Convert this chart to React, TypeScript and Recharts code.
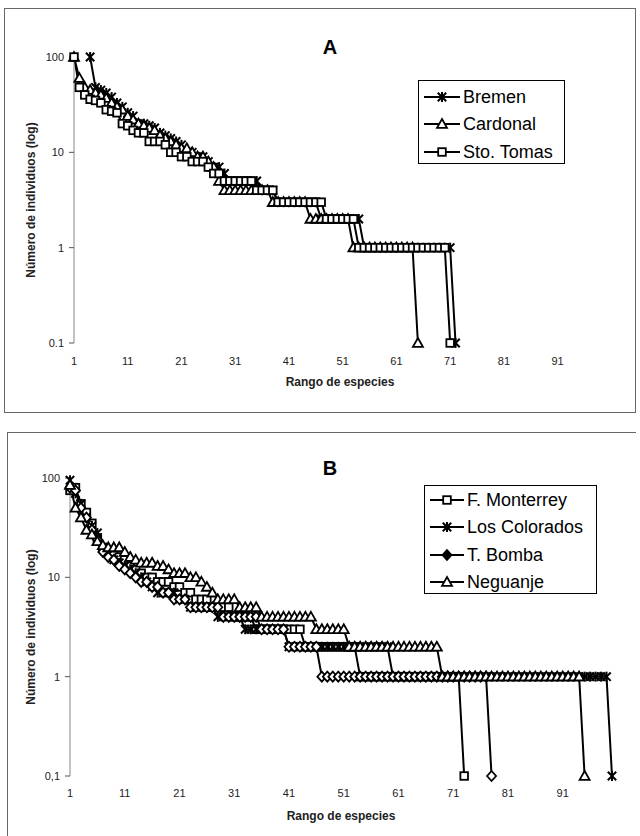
import React from 'react';
import { LineChart, Line, XAxis, YAxis, Legend } from 'recharts';

const ranks = Array.from({ length: 100 }, (_, i) => i + 1);
const xTicks = [1, 11, 21, 31, 41, 51, 61, 71, 81, 91];
const yTicks = [0.1, 1, 10, 100];

// ---- Panel A ----
const bremen = [
  null, null, null, 100, 48, 45, 42, 38, 33, 30,
  26, 24, 20, 20, 19, 18, 16, 15, 14, 13,
  12, 10, 10, 9, 9, 8, 7, 7, 6, 5,
  5, 5, 5, 5, 5, 4, 4, 4, 3, 3,
  3, 3, 3, 3, 3, 3, 2, 2, 2, 2,
  2, 2, 2, 2, 1, 1, 1, 1, 1, 1,
  1, 1, 1, 1, 1, 1, 1, 1, 1, 1,
  1, 0.1,
];
const cardonal = [
  100, 60, 48, 45, 42, 40, 37, 33, 30, 28,
  24, 22, 20, 19, 18, 17, 15, 14, 13, 12,
  11, 11, 10, 9, 9, 8, 7, 5, 4, 4,
  4, 4, 4, 4, 4, 4, 4, 3, 3, 3,
  3, 3, 3, 3, 2, 2, 2, 2, 2, 2,
  2, 2, 1, 1, 1, 1, 1, 1, 1, 1,
  1, 1, 1, 1, 0.1,
];
const stoTomas = [
  100, 48, 40, 36, 35, 33, 28, 27, 26, 20,
  19, 17, 16, 16, 13, 13, 13, 12, 10, 10,
  9, 9, 8, 8, 8, 7, 6, 6, 5, 5,
  5, 5, 5, 5, 4, 4, 4, 4, 3, 3,
  3, 3, 3, 3, 3, 3, 3, 2, 2, 2,
  2, 2, 2, 1, 1, 1, 1, 1, 1, 1,
  1, 1, 1, 1, 1, 1, 1, 1, 1, 1,
  0.1,
];

// ---- Panel B ----
const fMonterrey = [
  75, 80, 55, 45, 35, 25, 20, 18, 17, 16,
  15, 13, 12, 11, 10, 10, 9, 9, 9, 8,
  8, 7, 7, 6, 6, 6, 5, 5, 5, 5,
  4, 4, 4, 4, 3, 3, 3, 3, 3, 3,
  3, 3, 3, 2, 2, 2, 2, 2, 2, 2,
  2, 2, 2, 1, 1, 1, 1, 1, 1, 1,
  1, 1, 1, 1, 1, 1, 1, 1, 1, 1,
  1, 1, 0.1,
];
const losColorados = [
  95, 70, 55, 40, 33, 28, 20, 17, 15, 14,
  13, 12, 11, 10, 9, 8, 7, 7, 7, 7,
  6, 6, 5, 5, 5, 5, 5, 4, 4, 4,
  4, 4, 3, 3, 3, 3, 3, 3, 3, 3,
  2, 2, 2, 2, 2, 2, 2, 2, 2, 2,
  2, 2, 2, 2, 2, 2, 2, 2, 2, 1,
  1, 1, 1, 1, 1, 1, 1, 1, 1, 1,
  1, 1, 1, 1, 1, 1, 1, 1, 1, 1,
  1, 1, 1, 1, 1, 1, 1, 1, 1, 1,
  1, 1, 1, 1, 1, 1, 1, 1, 1, 0.1,
];
const tBomba = [
  80, 75, 50, 40, 30, 24, 18, 16, 15, 13,
  12, 11, 10, 9, 9, 8, 8, 7, 7, 6,
  6, 6, 5, 5, 5, 5, 5, 5, 4, 4,
  4, 4, 4, 4, 4, 3, 3, 3, 3, 3,
  2, 2, 2, 2, 2, 2, 1, 1, 1, 1,
  1, 1, 1, 1, 1, 1, 1, 1, 1, 1,
  1, 1, 1, 1, 1, 1, 1, 1, 1, 1,
  1, 1, 1, 1, 1, 1, 1, 0.1,
];
const neguanje = [
  85, 50, 40, 30, 27, 23, 21, 20, 20, 20,
  18, 16, 15, 14, 14, 14, 13, 13, 12, 11,
  11, 11, 10, 10, 9, 8, 7, 6, 6, 6,
  6, 5, 5, 5, 5, 4, 4, 4, 4, 4,
  4, 4, 4, 4, 4, 3, 3, 3, 3, 3,
  3, 2, 2, 2, 2, 2, 2, 2, 2, 2,
  2, 2, 2, 2, 2, 2, 2, 2, 1, 1,
  1, 1, 1, 1, 1, 1, 1, 1, 1, 1,
  1, 1, 1, 1, 1, 1, 1, 1, 1, 1,
  1, 1, 1, 1, 0.1,
];

type Series = { key: string; name: string; values: (number | null)[]; marker: string; legendFilled?: boolean };

const seriesA: Series[] = [
  { key: 'bremen', name: 'Bremen', values: bremen, marker: 'star' },
  { key: 'cardonal', name: 'Cardonal', values: cardonal, marker: 'triangle' },
  { key: 'stoTomas', name: 'Sto. Tomas', values: stoTomas, marker: 'square' },
];
const seriesB: Series[] = [
  { key: 'fMonterrey', name: 'F. Monterrey', values: fMonterrey, marker: 'square' },
  { key: 'losColorados', name: 'Los Colorados', values: losColorados, marker: 'star' },
  { key: 'tBomba', name: 'T. Bomba', values: tBomba, marker: 'diamond', legendFilled: true },
  { key: 'neguanje', name: 'Neguanje', values: neguanje, marker: 'triangle' },
];

function buildRows(series: Series[]) {
  return ranks.map((r, i) => {
    const row: any = { rank: r };
    series.forEach((s) => {
      const v = s.values[i];
      row[s.key] = v === undefined ? null : v;
    });
    return row;
  });
}

const FONT = '"Liberation Sans", Arial, sans-serif';

function Marker({ type, cx, cy, filled }: { type: string; cx: number; cy: number; filled?: boolean }) {
  const sw = 1.8;
  const fill = filled ? '#000' : '#fff';
  if (type === 'square') {
    return <rect x={cx - 3.8} y={cy - 3.8} width={7.6} height={7.6} fill={fill} stroke="#000" strokeWidth={sw} />;
  }
  if (type === 'triangle') {
    return (
      <polygon
        points={`${cx},${cy - 5} ${cx + 5},${cy + 3.8} ${cx - 5},${cy + 3.8}`}
        fill={fill}
        stroke="#000"
        strokeWidth={sw}
      />
    );
  }
  if (type === 'diamond') {
    return (
      <polygon
        points={`${cx},${cy - 5} ${cx + 4.5},${cy} ${cx},${cy + 5} ${cx - 4.5},${cy}`}
        fill={fill}
        stroke="#000"
        strokeWidth={sw}
      />
    );
  }
  return (
    <g stroke="#000" strokeWidth={2}>
      <line x1={cx - 4.2} y1={cy - 4.2} x2={cx + 4.2} y2={cy + 4.2} />
      <line x1={cx - 4.2} y1={cy + 4.2} x2={cx + 4.2} y2={cy - 4.2} />
      <line x1={cx} y1={cy - 5} x2={cx} y2={cy + 5} />
    </g>
  );
}

const makeDot = (type: string, key: string) => (props: any) => {
  const { cx, cy, index } = props;
  if (cx == null || cy == null || isNaN(cx) || isNaN(cy)) return <g key={`${key}-e-${index}`} />;
  return (
    <g key={`${key}-${index}`}>
      <Marker type={type} cx={cx} cy={cy} />
    </g>
  );
};

function LegendBox({ series, width, height, padTop, textX }: { series: Series[]; width: number; height: number; padTop: number; textX: number }) {
  return (
    <div
      style={{
        width,
        height,
        boxSizing: 'border-box',
        border: '1.5px solid #000',
        background: '#fff',
        paddingTop: padTop,
        fontFamily: FONT,
      }}
    >
      {series.map((s) => (
        <div key={s.key} style={{ height: 27.5, display: 'flex', alignItems: 'center', position: 'relative' }}>
          <svg width={textX} height={20} style={{ display: 'block', flex: 'none' }}>
            <line x1={5} y1={10} x2={textX - 3} y2={10} stroke="#000" strokeWidth={2.2} />
            <Marker type={s.marker} cx={(5 + textX - 3) / 2} cy={10} filled={s.legendFilled} />
          </svg>
          <span style={{ fontSize: 18, color: '#000', whiteSpace: 'nowrap', lineHeight: '20px' }}>{s.name}</span>
        </div>
      ))}
    </div>
  );
}

type PanelProps = {
  top: number;
  height: number;
  title: string;
  titleY: number;
  series: Series[];
  margin: { top: number; right: number; bottom: number; left: number };
  zeroLabel: string;
  tickMargin: number;
  xTitleDy: number;
  yTitleDx: number;
  legend: { left: number; top: number; width: number; height: number; padTop: number; textX: number };
};

function Panel(p: PanelProps) {
  const rows = buildRows(p.series);
  return (
    <div style={{ position: 'absolute', left: 0, top: p.top, width: 640, height: p.height }}>
      <LineChart width={640} height={p.height} data={rows} margin={p.margin}>
        <XAxis
          type="number"
          dataKey="rank"
          domain={[1, 100]}
          ticks={xTicks}
          interval={0}
          axisLine={false}
          tickLine={false}
          tickSize={6}
          tickMargin={p.tickMargin}
          height={30}
          tick={{ fontSize: 11, fill: '#222', fontFamily: FONT }}
          label={{
            value: 'Rango de especies',
            position: 'center',
            dy: p.xTitleDy,
            fontSize: 12,
            fontWeight: 'bold',
            fill: '#222',
            fontFamily: FONT,
          }}
        />
        <YAxis
          type="number"
          scale="log"
          domain={[0.1, 100]}
          ticks={yTicks}
          interval={0}
          width={60}
          tickFormatter={(v: number) => (v === 0.1 ? p.zeroLabel : String(v))}
          axisLine={{ stroke: '#888', strokeWidth: 1 }}
          tickLine={{ stroke: '#555' }}
          tickSize={5}
          tickMargin={5}
          tick={{ fontSize: 11, fill: '#222', fontFamily: FONT }}
          label={{
            value: 'Número de individuos (log)',
            angle: -90,
            position: 'center',
            dx: p.yTitleDx,
            fontSize: 12,
            fontWeight: 'bold',
            fill: '#222',
            fontFamily: FONT,
          }}
        />
        <Legend
          layout="vertical"
          align="center"
          verticalAlign="middle"
          wrapperStyle={{ left: p.legend.left, top: p.legend.top, width: p.legend.width, height: p.legend.height }}
          content={() => (
            <LegendBox
              series={p.series}
              width={p.legend.width}
              height={p.legend.height}
              padTop={p.legend.padTop}
              textX={p.legend.textX}
            />
          )}
        />
        {p.series.map((s) => (
          <Line
            key={s.key}
            type="linear"
            dataKey={s.key}
            name={s.name}
            stroke="#000"
            strokeWidth={2}
            dot={makeDot(s.marker, s.key)}
            activeDot={false}
            connectNulls={false}
            isAnimationActive={false}
          />
        ))}
      </LineChart>
      <div
        style={{
          position: 'absolute',
          left: 310,
          width: 40,
          top: p.titleY - 12,
          height: 24,
          lineHeight: '24px',
          textAlign: 'center',
          fontFamily: FONT,
          fontWeight: 'bold',
          fontSize: 20,
          color: '#000',
        }}
      >
        {p.title}
      </div>
    </div>
  );
}

export default function App() {
  return (
    <div style={{ position: 'absolute', left: 0, top: 0, width: 640, height: 836, background: '#fff', overflow: 'hidden', fontFamily: FONT }}>
      <div style={{ position: 'absolute', left: 4, top: 8, width: 632, height: 405, boxSizing: 'border-box', border: '1px solid #666' }} />
      <div style={{ position: 'absolute', left: 7, top: 432, width: 629, height: 404, boxSizing: 'border-box', borderTop: '1px solid #666', borderLeft: '1px solid #666' }} />
      <Panel
        top={0}
        height={420}
        title="A"
        titleY={47}
        series={seriesA}
        margin={{ top: 57, right: 34, bottom: 47, left: 14 }}
        zeroLabel="0.1"
        tickMargin={8}
        xTitleDy={24}
        yTitleDx={-13}
        legend={{ left: 418, top: 80, width: 147, height: 84, padTop: 2, textX: 44 }}
      />
      <Panel
        top={420}
        height={416}
        title="B"
        titleY={48}
        series={seriesB}
        margin={{ top: 58, right: 28, bottom: 30, left: 10 }}
        zeroLabel="0,1"
        tickMargin={7}
        xTitleDy={25}
        yTitleDx={-9}
        legend={{ left: 424, top: 65, width: 173, height: 109, padTop: 0, textX: 42 }}
      />
    </div>
  );
}
